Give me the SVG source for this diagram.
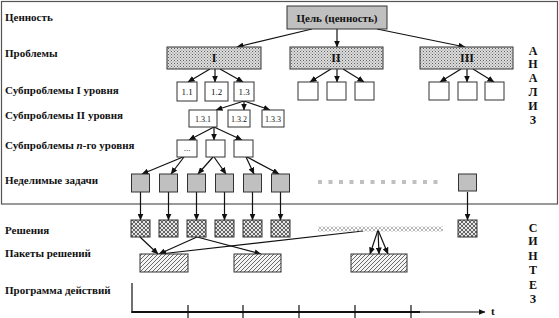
<svg xmlns="http://www.w3.org/2000/svg" width="559" height="318" viewBox="0 0 559 318">
<style>
.lbl{font-family:"Liberation Serif","Times New Roman",serif;font-weight:bold;font-size:11px;fill:#111}
.num{font-family:"Liberation Serif","Times New Roman",serif;font-size:9px;fill:#111;text-anchor:middle}
.num2{font-family:"Liberation Serif","Times New Roman",serif;font-size:8px;fill:#111;text-anchor:middle}
.rom{font-family:"Liberation Serif","Times New Roman",serif;font-weight:bold;font-size:12px;fill:#111;text-anchor:middle}
.vert{font-family:"Liberation Serif","Times New Roman",serif;font-weight:bold;font-size:12px;fill:#111;text-anchor:middle}
.box{fill:#fff;stroke:#333;stroke-width:1}
.prob{fill:url(#dots);stroke:#333;stroke-width:1}
.task{fill:#c0c0c0;stroke:#333;stroke-width:1}
.sol{fill:url(#cross);stroke:#333;stroke-width:1}
.pack{fill:url(#diag);stroke:#333;stroke-width:1}
.ar{stroke:#111;stroke-width:1.2;fill:none;marker-end:url(#ah)}
.ln{stroke:#111;stroke-width:1.2;fill:none}
</style>
<defs>
<pattern id="dots" width="3" height="3" patternUnits="userSpaceOnUse"><rect width="3" height="3" fill="#dcdcdc"/><rect x="0" y="0" width="1" height="1" fill="#606060"/><rect x="1.5" y="1.5" width="1" height="1" fill="#808080"/></pattern>
<pattern id="cross" width="4" height="4" patternUnits="userSpaceOnUse"><rect width="4" height="4" fill="#e6e6e6"/><path d="M0,0 L4,4 M4,0 L0,4" stroke="#444" stroke-width="0.8"/></pattern>
<pattern id="cross2" width="4" height="4" patternUnits="userSpaceOnUse"><path d="M0,0 L4,4 M4,0 L0,4" stroke="#999" stroke-width="0.7"/></pattern>
<pattern id="diag" width="4" height="4" patternUnits="userSpaceOnUse"><rect width="4" height="4" fill="#f4f4f4"/><path d="M-1,1 L1,-1 M0,4 L4,0 M3,5 L5,3" stroke="#444" stroke-width="0.8"/></pattern>
<marker id="ah" markerWidth="7" markerHeight="6" refX="6.5" refY="3" orient="auto" markerUnits="userSpaceOnUse"><path d="M0,0 L7,3 L0,6 z" fill="#111"/></marker>
</defs>
<rect id="frame" x="1.5" y="1.5" width="556" height="202.5" fill="none" stroke="#555" stroke-width="1.2"/>
<g id="labels">
<text class="lbl" x="5" y="21">Ценность</text>
<text class="lbl" x="5" y="57">Проблемы</text>
<text class="lbl" x="5" y="94">Субпроблемы I уровня</text>
<text class="lbl" x="5" y="119">Субпроблемы II уровня</text>
<text class="lbl" x="5" y="149">Субпроблемы <tspan font-style="italic">n</tspan>-го уровня</text>
<text class="lbl" x="5" y="184">Неделимые задачи</text>
<text class="lbl" x="5" y="234">Решения</text>
<text class="lbl" x="5" y="257">Пакеты решений</text>
<text class="lbl" x="5" y="294">Программа действий</text>
</g>
<g id="analiz">
<text class="vert" x="533" y="55">А</text>
<text class="vert" x="533" y="68">Н</text>
<text class="vert" x="533" y="82">А</text>
<text class="vert" x="533" y="96">Л</text>
<text class="vert" x="533" y="110">И</text>
<text class="vert" x="533" y="124">З</text>
</g>
<g id="sintez">
<text class="vert" x="533" y="232">С</text>
<text class="vert" x="533" y="245">И</text>
<text class="vert" x="533" y="260">Н</text>
<text class="vert" x="533" y="274">Т</text>
<text class="vert" x="533" y="289">Е</text>
<text class="vert" x="533" y="303">З</text>
</g>
<g id="connectors">
<line class="ar" x1="312" y1="29" x2="237" y2="47"/>
<line class="ar" x1="337" y1="29" x2="337" y2="47"/>
<line class="ar" x1="377" y1="29" x2="465" y2="47"/>
<line class="ar" x1="210" y1="69" x2="188" y2="82"/>
<line class="ar" x1="215" y1="69" x2="215" y2="82"/>
<line class="ar" x1="220" y1="69" x2="243" y2="82"/>
<line class="ar" x1="331" y1="69" x2="310" y2="82"/>
<line class="ar" x1="337" y1="69" x2="337" y2="82"/>
<line class="ar" x1="343" y1="69" x2="364" y2="82"/>
<line class="ar" x1="461" y1="69" x2="440" y2="82"/>
<line class="ar" x1="467" y1="69" x2="467" y2="82"/>
<line class="ar" x1="473" y1="69" x2="494" y2="82"/>
<line class="ar" x1="244" y1="101" x2="216" y2="110"/>
<line class="ar" x1="244" y1="101" x2="244" y2="110"/>
<line class="ar" x1="244" y1="101" x2="270" y2="110"/>
<line class="ar" x1="214" y1="127" x2="189" y2="140"/>
<line class="ar" x1="214" y1="127" x2="214" y2="140"/>
<line class="ar" x1="214" y1="127" x2="242" y2="140"/>
<line class="ar" x1="183" y1="157" x2="142" y2="174"/>
<line class="ar" x1="184" y1="157" x2="171" y2="174"/>
<line class="ar" x1="213" y1="157" x2="198" y2="174"/>
<line class="ar" x1="214" y1="157" x2="226" y2="174"/>
<line class="ar" x1="246" y1="157" x2="254" y2="174"/>
<line class="ar" x1="247" y1="157" x2="279" y2="174"/>
<line class="ar" x1="140.5" y1="192" x2="140.5" y2="220"/>
<line class="ar" x1="168.5" y1="192" x2="168.5" y2="220"/>
<line class="ar" x1="196.5" y1="192" x2="196.5" y2="220"/>
<line class="ar" x1="224.5" y1="192" x2="224.5" y2="220"/>
<line class="ar" x1="252.5" y1="192" x2="252.5" y2="220"/>
<line class="ar" x1="280.5" y1="192" x2="280.5" y2="220"/>
<line class="ar" x1="467.5" y1="192" x2="467.5" y2="220"/>
<line class="ar" x1="140" y1="237" x2="158" y2="254"/>
<line class="ar" x1="197" y1="237" x2="159" y2="254"/>
<line class="ar" x1="197" y1="237" x2="261" y2="254"/>
<line class="ar" x1="363" y1="231" x2="160" y2="254"/>
<line class="ar" x1="378" y1="230" x2="370" y2="254"/>
<line class="ar" x1="378" y1="230" x2="379" y2="254"/>
<line class="ar" x1="378" y1="230" x2="388" y2="254"/>
</g>
<g id="goal"><rect x="287" y="6" width="100" height="23" fill="#c0c0c0" stroke="#333"/><text class="lbl" x="337" y="21.5" text-anchor="middle">Цель (ценность)</text></g>
<g id="p1"><rect class="prob" x="167" y="47" width="94" height="22"/><text class="rom" x="214" y="62">I</text></g>
<g id="p2"><rect class="prob" x="290" y="47" width="93" height="22"/><text class="rom" x="336" y="62">II</text></g>
<g id="p3"><rect class="prob" x="420" y="47" width="93" height="22"/><text class="rom" x="467" y="62">III</text></g>
<g id="s11"><rect class="box" x="177" y="82" width="20" height="19"/><text class="num" x="187" y="95">1.1</text></g>
<g id="s12"><rect class="box" x="205" y="82" width="23" height="19"/><text class="num" x="216.5" y="95">1.2</text></g>
<g id="s13"><rect class="box" x="234" y="82" width="20" height="19"/><text class="num" x="244" y="95">1.3</text></g>
<g id="s21"><rect class="box" x="298" y="82" width="20" height="18"/></g>
<g id="s22"><rect class="box" x="327" y="82" width="19" height="18"/></g>
<g id="s23"><rect class="box" x="355" y="82" width="19" height="18"/></g>
<g id="s31"><rect class="box" x="429" y="82" width="20" height="18"/></g>
<g id="s32"><rect class="box" x="458" y="82" width="19" height="18"/></g>
<g id="s33"><rect class="box" x="485" y="82" width="19" height="18"/></g>
<g id="s131"><rect class="box" x="189" y="110" width="28" height="17"/><text class="num2" x="203" y="121.5">1.3.1</text></g>
<g id="s132"><rect class="box" x="228" y="110" width="22" height="17"/><text class="num2" x="239" y="121.5">1.3.2</text></g>
<g id="s133"><rect class="box" x="262" y="110" width="22" height="17"/><text class="num2" x="273" y="121.5">1.3.3</text></g>
<g id="n1"><rect class="box" x="177" y="140" width="20" height="17"/><text class="num" x="187" y="151">...</text></g>
<g id="n2"><rect class="box" x="206" y="140" width="19" height="17"/></g>
<g id="n3"><rect class="box" x="234" y="140" width="19" height="17"/></g>
<g id="tasks">
<rect class="task" x="131.5" y="174" width="18" height="18"/>
<rect class="task" x="159.5" y="174" width="18" height="18"/>
<rect class="task" x="187.5" y="174" width="18" height="18"/>
<rect class="task" x="215.5" y="174" width="18" height="18"/>
<rect class="task" x="243.5" y="174" width="18" height="18"/>
<rect class="task" x="271.5" y="174" width="18" height="18"/>
<rect class="task" x="458.5" y="174" width="18" height="17"/>
</g>
<g id="dotsline" fill="#c0c0c0">
<rect x="318" y="180" width="4" height="4"/><rect x="328.5" y="180" width="4" height="4"/><rect x="339" y="180" width="4" height="4"/><rect x="349.5" y="180" width="4" height="4"/><rect x="360" y="180" width="4" height="4"/><rect x="370.5" y="180" width="4" height="4"/><rect x="381" y="180" width="4" height="4"/><rect x="391.5" y="180" width="4" height="4"/><rect x="402" y="180" width="4" height="4"/><rect x="412.5" y="180" width="4" height="4"/><rect x="423" y="180" width="4" height="4"/><rect x="433.5" y="180" width="4" height="4"/>
</g>
<g id="solutions">
<rect class="sol" x="131" y="220" width="19" height="17"/>
<rect class="sol" x="159" y="220" width="19" height="17"/>
<rect class="sol" x="187" y="220" width="19" height="17"/>
<rect class="sol" x="215" y="220" width="19" height="17"/>
<rect class="sol" x="243" y="220" width="19" height="17"/>
<rect class="sol" x="271" y="220" width="19" height="17"/>
<rect class="sol" x="458" y="220" width="19" height="17"/>
<rect x="318" y="226.5" width="125" height="5" fill="url(#cross2)"/>
</g>
<g id="packets">
<rect class="pack" x="140" y="254" width="48" height="18"/>
<rect class="pack" x="234" y="254" width="47" height="18"/>
<rect class="pack" x="351" y="254" width="56" height="18"/>
</g>
<g id="timeline">
<line class="ln" x1="132" y1="283" x2="132" y2="313"/>
<line x1="131.5" y1="312" x2="420" y2="312" stroke="#111" stroke-width="2"/>
<line x1="420" y1="312" x2="485" y2="312" stroke="#111" stroke-width="1" marker-end="url(#ah)"/>
<line class="ln" x1="188" y1="305" x2="188" y2="318"/>
<line class="ln" x1="243" y1="305" x2="243" y2="318"/>
<line class="ln" x1="299" y1="305" x2="299" y2="318"/>
<line class="ln" x1="355" y1="305" x2="355" y2="318"/>
<line class="ln" x1="411" y1="305" x2="411" y2="318"/>
<text class="lbl" x="491" y="315">t</text>
</g>
</svg>
